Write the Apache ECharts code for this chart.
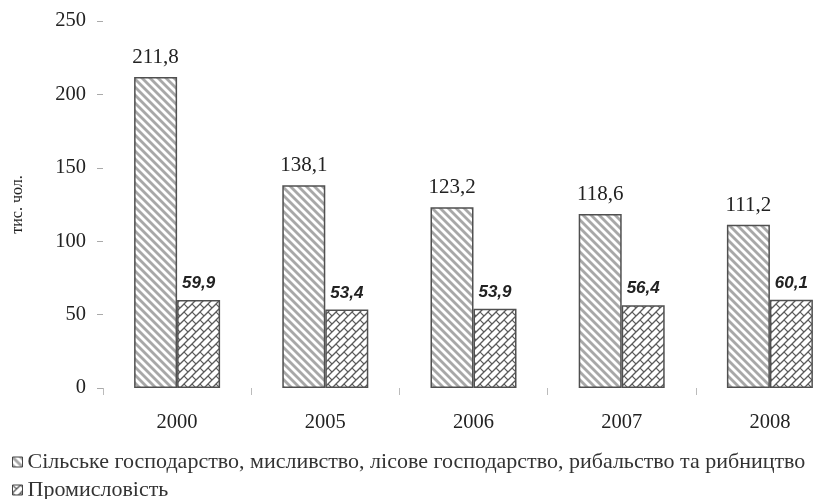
<!DOCTYPE html>
<html>
<head>
<meta charset="utf-8">
<script src="https://cdn.jsdelivr.net/npm/echarts@6/dist/echarts.min.js"></script>
<style>
html,body{margin:0;padding:0;background:#fff;}
#chart{width:827px;height:499px;}
</style>
</head>
<body>
<div id="chart"></div>
<script>
var categories = ['2000', '2005', '2006', '2007', '2008'];
var agriculture = [211.8, 138.1, 123.2, 118.6, 111.2];
var industry = [59.9, 53.4, 53.9, 56.4, 60.1];
var seriesNames = ['Сільське господарство, мисливство, лісове господарство, рибальство та рибництво', 'Промисловість'];
var yTicks = [0, 50, 100, 150, 200, 250];
var yName = 'тис. чол.';

function stripePattern() {
  var c = document.createElement('canvas');
  c.width = 8; c.height = 8;
  var g = c.getContext('2d');
  g.fillStyle = '#ffffff';
  g.fillRect(0, 0, 8, 8);
  g.strokeStyle = '#a8a8a8';
  g.lineWidth = 2.8;
  [-8, 0, 8].forEach(function (o) {
    g.beginPath();
    g.moveTo(o - 2, -2);
    g.lineTo(o + 10, 10);
    g.stroke();
  });
  return c;
}
function brickPattern() {
  var c = document.createElement('canvas');
  c.width = 8; c.height = 8;
  var g = c.getContext('2d');
  g.fillStyle = '#ffffff';
  g.fillRect(0, 0, 8, 8);
  g.strokeStyle = '#5a5a5a';
  g.lineWidth = 1.3;
  [0, 8, 16].forEach(function (s) {
    g.beginPath();
    g.moveTo(s + 2, -2);
    g.lineTo(s - 10, 10);
    g.stroke();
  });
  g.lineWidth = 1.1;
  [[0, 0], [8, 0], [0, 8], [8, 8], [-8, 0], [0, -8], [-8, -8]].forEach(function (p) {
    g.beginPath();
    g.moveTo(p[0], p[1]);
    g.lineTo(p[0] + 4, p[1] + 4);
    g.stroke();
  });
  return c;
}

var chart = echarts.init(document.getElementById('chart'), null, {renderer: 'canvas'});
var serif = '"Liberation Serif", "Times New Roman", serif';
var legendBase = {
  orient: 'horizontal',
  left: 12,
  itemWidth: 10,
  itemHeight: 10,
  itemGap: 9,
  padding: 0,
  icon: 'rect',
  textStyle: {fontFamily: serif, fontSize: 22, color: '#333', lineHeight: 22},
  itemStyle: {borderColor: '#444', borderWidth: 1}
};
var option = {
  animation: false,
  backgroundColor: '#ffffff',
  grid: {left: 103, width: 741, top: 21, bottom: 111, containLabel: false, outerBoundsMode: 'none'},
  legend: [
    Object.assign({}, legendBase, {top: 451, data: [seriesNames[0]]}),
    Object.assign({}, legendBase, {top: 479, data: [seriesNames[1]]})
  ],
  xAxis: {
    type: 'category',
    data: categories,
    axisLine: {show: false},
    axisTick: {show: true, length: 7, lineStyle: {color: '#bbb', width: 1}},
    axisLabel: {fontFamily: serif, fontSize: 20.5, color: '#222', margin: 24}
  },
  yAxis: {
    type: 'value',
    min: 0, max: 250, interval: 50,
    name: yName,
    nameLocation: 'middle',
    nameRotate: 90,
    nameGap: 77,
    nameTextStyle: {fontFamily: serif, fontSize: 16, color: '#222'},
    axisLine: {show: false},
    splitLine: {show: false},
    axisTick: {show: true, length: 6, lineStyle: {color: '#aaa'}},
    axisLabel: {fontFamily: serif, fontSize: 20.5, color: '#222', margin: 17,
      formatter: function (v) { return yTicks.indexOf(v) >= 0 ? String(v) : ''; }}
  },
  series: [
    {
      name: seriesNames[0],
      type: 'bar',
      data: agriculture,
      barWidth: 43,
      barGap: '0%',
      itemStyle: {color: {image: stripePattern(), repeat: 'repeat'}, borderColor: '#505050', borderWidth: 1.5},
      label: {show: true, position: 'top', distance: 9, fontFamily: serif, fontSize: 21, color: '#222',
        formatter: function (p) { return String(p.value).replace('.', ','); }}
    },
    {
      name: seriesNames[1],
      type: 'bar',
      data: industry,
      barWidth: 43,
      barGap: '0%',
      itemStyle: {color: {image: brickPattern(), repeat: 'repeat'}, borderColor: '#505050', borderWidth: 1.5},
      label: {show: true, position: 'top', distance: 8, fontFamily: '"Liberation Sans", Arial, sans-serif',
        fontSize: 17, fontWeight: 'bold', fontStyle: 'italic', color: '#222',
        formatter: function (p) { return String(p.value).replace('.', ','); }}
    }
  ]
};
chart.setOption(option);
</script>
</body>
</html>
